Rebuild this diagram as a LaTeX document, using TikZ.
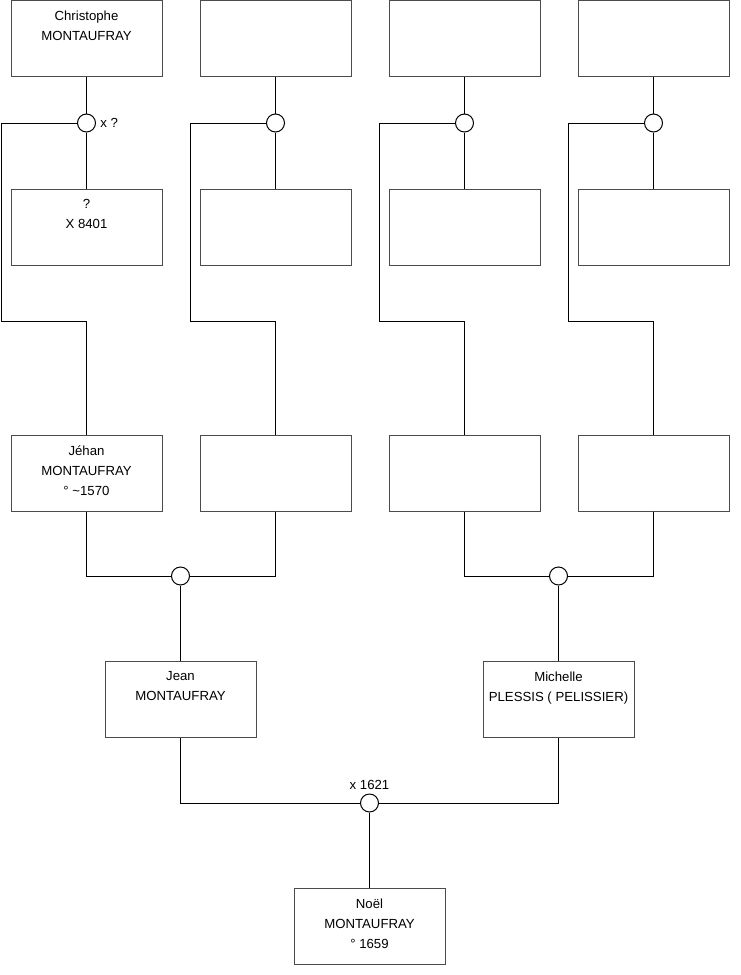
\documentclass[tikz,border=0pt]{standalone}
\usepackage{fontspec}
\setmainfont{Liberation Sans}
% one person: box plus its text set from the top
\newcommand{\personbox}[3]{%
  \node[person] (#1) at (#2) {};
  \node[who] at (#1.north) {#3};}
\begin{document}
\begin{tikzpicture}[x=0.75pt,y=-0.75pt,
    person/.style={draw=black!70, line width=0.75pt, minimum width=113.25pt, minimum height=57pt, inner sep=0pt},
    who/.style={anchor=north, inner sep=0pt, align=center, font=\fontsize{9.9}{15}\selectfont, yshift=-8.2pt},
    union/.style={draw, circle, line width=0.75pt, minimum size=13.5pt, inner sep=0pt, fill=white},
    link/.style={line width=0.75pt},
    note/.style={font=\fontsize{9.9}{11}\selectfont, inner sep=0pt}]
    \useasboundingbox (0,0) rectangle (740,975);

    % Great-grandparents
    \personbox{c1}{86.5,38.5}{Christophe\\MONTAUFRAY}
    \personbox{c2}{275.5,38.5}{}
    \personbox{c3}{464.5,38.5}{}
    \personbox{c4}{653.5,38.5}{}
    \personbox{w1}{86.5,227}{?\\X 8401}
    \personbox{w2}{275.5,227}{}
    \personbox{w3}{464.5,227}{}
    \personbox{w4}{653.5,227}{}

    % Grandparents
    \personbox{g1}{86.5,473}{Jéhan\\MONTAUFRAY\\° \textasciitilde1570}
    \personbox{g2}{275.5,473}{}
    \personbox{g3}{464.5,473}{}
    \personbox{g4}{653.5,473}{}

    % Parents and child
    \personbox{jean}{180.5,699}{Jean\\MONTAUFRAY}
    \personbox{michelle}{558.5,699}{Michelle\\PLESSIS ( PELISSIER)}
    \personbox{noel}{369.5,926}{Noël\\MONTAUFRAY\\° 1659}

    % Unions
    \node[union] (u1) at (86.5,123) {};
    \node[union] (u2) at (275.5,123) {};
    \node[union] (u3) at (464.5,123) {};
    \node[union] (u4) at (653.5,123) {};
    \node[union] (u5) at (180.5,576) {};
    \node[union] (u6) at (558.5,576) {};
    \node[union] (u7) at (369.5,803) {};

    \coordinate (k1) at (1,321);
    \coordinate (k2) at (190,321);
    \coordinate (k3) at (379,321);
    \coordinate (k4) at (568,321);

    % Top couples down to their child
    \foreach \i in {1,...,4} {
        \draw[link] (c\i.south) -- (u\i.north);
        \draw[link] (u\i.south) -- (w\i.north);
        \draw[link] (u\i.west) -| (k\i) -| (g\i.north);
    }

    % Grandparents to parents
    \draw[link] (g1.south) |- (u5.west);
    \draw[link] (g2.south) |- (u5.east);
    \draw[link] (u5.south) -- (jean.north);
    \draw[link] (g3.south) |- (u6.west);
    \draw[link] (g4.south) |- (u6.east);
    \draw[link] (u6.south) -- (michelle.north);

    % Parents to child
    \draw[link] (jean.south) |- (u7.west);
    \draw[link] (michelle.south) |- (u7.east);
    \draw[link] (u7.south) -- (noel.north);

    % Marriage notes
    \node[note, anchor=west, xshift=3pt] at (u1.east) {x ?};
    \node[note, anchor=south, yshift=3pt] at (u7.north) {x 1621};
\end{tikzpicture}
\end{document}
